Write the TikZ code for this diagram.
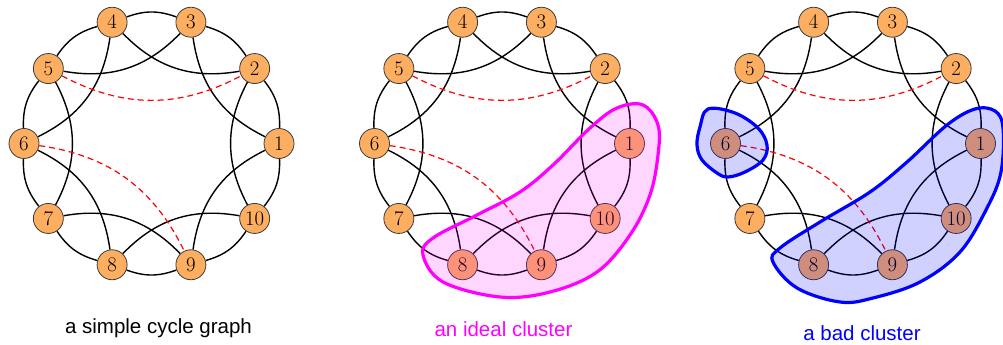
\documentclass[tikz,border=0pt]{standalone}
\usepackage{fontspec}
\newfontfamily\labelfont{Liberation Sans}
\usetikzlibrary{backgrounds}
\definecolor{vorange}{RGB}{253,174,97}
\definecolor{vborder}{RGB}{60,60,60}
\definecolor{cmag}{RGB}{255,0,255}
\definecolor{cblue}{RGB}{0,0,255}
\tikzset{
  vtx/.style={circle,minimum size=30pt,inner sep=0pt,fill=vorange,draw=vborder,line width=0.8pt,font=\fontsize{20}{22}\selectfont},
  edgeline/.style={line width=1.4pt,black},
  reddash/.style={line width=1.2pt,red,dash pattern=on 6pt off 4pt},
  magblob/.style={draw=cmag,line width=3.2pt,fill=cmag,fill opacity=0.16,draw opacity=1},
  blueblob/.style={draw=cblue,line width=3.2pt,fill=cblue,fill opacity=0.18,draw opacity=1},
  caption/.style={font=\labelfont\fontsize{20.5}{24}\selectfont,anchor=base,inner sep=0pt}
}
\newcommand\drawcyclegraph[2]{%
  \begin{scope}[shift={(#2,201.5)}]
    \foreach \i in {1,...,10} {
      \node[vtx] (#1\i) at ({(\i-1)*36}:127.5) {$\i$};
    }
  \end{scope}
  \begin{pgfonlayer}{background}
    \foreach \i [evaluate=\i as \j using {int(mod(\i,10)+1)},
                 evaluate=\i as \k using {int(mod(\i+1,10)+1)}] in {1,...,10} {
      \draw[edgeline] (#1\i) to[bend right=20] (#1\j);
      \draw[edgeline] (#1\i) to[bend left=28] (#1\k);
    }
    \draw[reddash] (#15) to[bend right=28] (#12);
    \draw[reddash] (#16) to[bend left=28] (#19);
  \end{pgfonlayer}
}
\begin{document}
\begin{tikzpicture}[x=1pt,y=1pt]
\useasboundingbox (0,0) rectangle (1003,345);
\drawcyclegraph{a}{151.5}
\drawcyclegraph{b}{502}
\drawcyclegraph{c}{853}
% ideal cluster
\draw[magblob] plot[smooth cycle,tension=0.6] coordinates {
  (643,240) (658,220) (658,190) (650,150) (630,110) (597,73) (550,53) (500,48)
  (443,63) (423,90) (433,107) (477,130) (520,153) (553,180) (590,217) (617,237)};
% bad cluster
\draw[blueblob] plot[smooth cycle,tension=0.6] coordinates {
  (975,236) (995,234) (1003,217) (1001,173) (987,137) (960,93) (920,63) (873,47)
  (840,43) (797,57) (773,83) (780,97) (820,123) (870,153) (907,183) (947,220)};
\draw[blueblob] plot[smooth cycle,tension=0.6] coordinates {
  (708,236) (735,232) (758,217) (767,200) (763,185) (745,173) (728,168)
  (717,172) (702,185) (697,200) (700,218)};
% captions
\node[caption] (capa) at (158.5,12) {a simple cycle graph};
\node[caption,text=cmag] (capb) at (503.5,9) {an ideal cluster};
\node[caption,text=cblue] (capc) at (862,5) {a bad cluster};
\end{tikzpicture}
\end{document}
